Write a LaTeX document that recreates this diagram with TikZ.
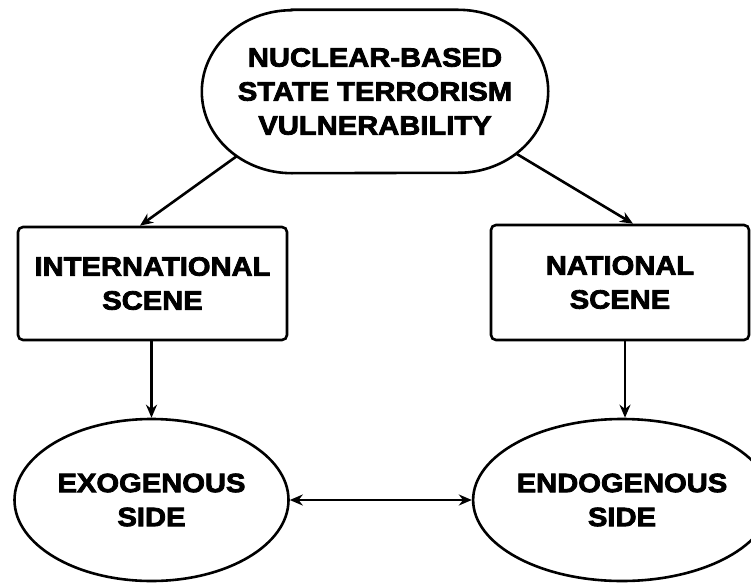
\documentclass[tikz,border=0pt]{standalone}
\usepackage{fontspec}
\setmainfont{Liberation Sans}[BoldFeatures={FakeStretch=1.1,FakeBold=3}]
\usetikzlibrary{arrows.meta,shapes.geometric}
\begin{document}
\begin{tikzpicture}[x=1pt,y=-1pt,
  ln/.style={line width=2.6pt,black},
  tip/.style={Stealth[length=13pt,width=11pt]},
  arr/.style={ln,-{Stealth[length=13pt,width=11pt]}},
  lbl/.style={align=center,font=\fontsize{26.5}{34}\selectfont\bfseries,text=black},
  boxnode/.style={lbl,draw,line width=2.6pt,rounded corners=5pt,inner sep=0pt},
  ellnode/.style={lbl,draw,line width=2.6pt,ellipse,inner sep=0pt}]
\useasboundingbox[fill=white] (0,0) rectangle (751,583);
% top shape
\node[lbl,inner sep=0pt,minimum width=346pt,minimum height=163pt] (top) at (375,91.5)
  {NUCLEAR-BASED\\STATE TERRORISM\\VULNERABILITY};
\draw[ln] ([xshift=90pt]top.north west) -- ([xshift=-90pt]top.north east)
  arc[start angle=90,end angle=-90,x radius=90pt,y radius=81.5pt]
  -- ([xshift=90pt]top.south west)
  arc[start angle=270,end angle=90,x radius=90pt,y radius=81.5pt] -- cycle;
\coordinate (tl) at (237,156);
\coordinate (tr) at (516,153.5);
% boxes
\node[boxnode,minimum width=269pt,minimum height=113pt] (lbox) at (152.5,283.5) {INTERNATIONAL\\SCENE};
\node[boxnode,minimum width=258pt,minimum height=115pt] (rbox) at (620,282.5) {NATIONAL\\SCENE};
% ellipses
\node[ellnode,minimum width=274pt,minimum height=162pt] (lell) at (151.5,500) {EXOGENOUS\\SIDE};
\node[ellnode,minimum width=256pt,minimum height=162pt] (rell) at (622,500) {ENDOGENOUS\\SIDE};
% connectors
\draw[arr] (tl) -- (lbox.north west -| 140,0);
\draw[arr] (tr) -- (rbox.north west -| 633,0);
\draw[arr] (lbox.south -| lell.north) -- (lell.north);
\draw[arr] ([xshift=3pt]rbox.south -| rell.north) -- ([xshift=3pt]rell.north);
\draw[ln,{Stealth[length=13pt,width=11pt]}-{Stealth[length=13pt,width=11pt]}] (lell.east) -- (rell.west);
\end{tikzpicture}
\end{document}
